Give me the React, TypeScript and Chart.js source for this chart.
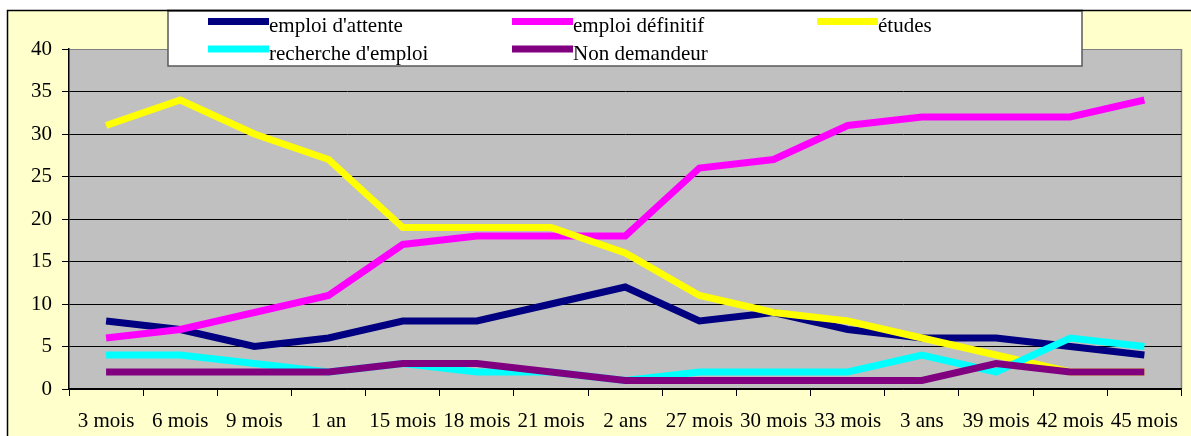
import React, { useEffect, useRef } from "react";
import { Chart, registerables } from "chart.js";

Chart.register(...registerables);

const categories = ["3 mois", "6 mois", "9 mois", "1 an", "15 mois", "18 mois", "21 mois", "2 ans", "27 mois", "30 mois", "33 mois", "3 ans", "39 mois", "42 mois", "45 mois"];
const emploiAttente = [8, 7, 5, 6, 8, 8, 10, 12, 8, 9, 7, 6, 6, 5, 4];
const emploiDefinitif = [6, 7, 9, 11, 17, 18, 18, 18, 26, 27, 31, 32, 32, 32, 34];
const etudes = [31, 34, 30, 27, 19, 19, 19, 16, 11, 9, 8, 6, 4, 2, 2];
const rechercheEmploi = [4, 4, 3, 2, 3, 2, 2, 1, 2, 2, 2, 4, 2, 6, 5];
const nonDemandeur = [2, 2, 2, 2, 3, 3, 2, 1, 1, 1, 1, 1, 3, 2, 2];
const seriesLabels = ["emploi d'attente", "emploi définitif", "études", "recherche d'emploi", "Non demandeur"];
const seriesColors = ["#000080", "#FF00FF", "#FFFF00", "#00FFFF", "#800080"];
const yTicks = [0, 5, 10, 15, 20, 25, 30, 35, 40];

const FONT = '"Liberation Serif", "Times New Roman", serif';

const backgroundPlugin = {
  id: "bgPlugin",
  beforeDraw(chart: any) {
    const { ctx, chartArea, width, height } = chart;
    ctx.save();
    ctx.fillStyle = "#ffffff";
    ctx.fillRect(0, 0, width, height);
    ctx.fillStyle = "#FFFFCC";
    ctx.fillRect(7.5, 10.5, width, height);
    ctx.strokeStyle = "#000";
    ctx.lineWidth = 1.5;
    ctx.beginPath();
    ctx.moveTo(7.5, height + 2);
    ctx.lineTo(7.5, 10.5);
    ctx.lineTo(width + 2, 10.5);
    ctx.stroke();
    ctx.fillStyle = "#C0C0C0";
    ctx.fillRect(chartArea.left, chartArea.top, chartArea.right - chartArea.left, chartArea.bottom - chartArea.top);
    ctx.strokeStyle = "#808080";
    ctx.lineWidth = 1.5;
    ctx.beginPath();
    ctx.moveTo(chartArea.right, chartArea.top);
    ctx.lineTo(chartArea.right, chartArea.bottom);
    ctx.stroke();
    ctx.restore();
  },
  afterDraw(chart: any) {
    const { ctx } = chart;
    ctx.save();
    const lx = 168, ly = 11, lw = 914, lh = 55;
    ctx.fillStyle = "#ffffff";
    ctx.fillRect(lx, ly, lw, lh);
    ctx.strokeStyle = "#5a5a5a";
    ctx.lineWidth = 1.5;
    ctx.strokeRect(lx, ly, lw, lh);
    ctx.strokeStyle = "#000";
    ctx.beginPath();
    ctx.moveTo(lx - 1, 10.5);
    ctx.lineTo(lx + lw + 1, 10.5);
    ctx.stroke();
    const cols = [208, 512, 817];
    const rows = [21.5, 49];
    ctx.font = "21px " + FONT;
    ctx.textAlign = "left";
    ctx.textBaseline = "alphabetic";
    chart.data.datasets.forEach((ds: any, i: number) => {
      const c = i % 3;
      const r = Math.floor(i / 3);
      const x = cols[c];
      const y = rows[r];
      ctx.strokeStyle = ds.borderColor;
      ctx.lineWidth = 7;
      ctx.lineCap = "butt";
      ctx.beginPath();
      ctx.moveTo(x, y);
      ctx.lineTo(x + 61, y);
      ctx.stroke();
      ctx.fillStyle = "#000";
      ctx.fillText(ds.label, x + 61, y + 10.5);
    });
    ctx.restore();
  },
};

export default function App() {
  const ref = useRef<HTMLCanvasElement | null>(null);
  useEffect(() => {
    if (!ref.current) return;
    const seriesData = [emploiAttente, emploiDefinitif, etudes, rechercheEmploi, nonDemandeur];
    const chart = new Chart(ref.current, {
      type: "line",
      data: {
        labels: categories,
        datasets: seriesData.map((d, i) => ({
          label: seriesLabels[i],
          data: d,
          borderColor: seriesColors[i],
          backgroundColor: seriesColors[i],
          borderWidth: 7,
          pointRadius: 0,
          tension: 0,
          fill: false,
          order: 5 - i,
        })),
      },
      options: {
        animation: false,
        responsive: false,
        maintainAspectRatio: false,
        layout: { padding: { left: 0, top: 49, right: 2, bottom: 0 } },
        plugins: {
          legend: { display: false },
          tooltip: { enabled: false },
        },
        scales: {
          x: {
            offset: true,
            grid: {
              offset: true,
              drawOnChartArea: false,
              drawTicks: true,
              tickLength: 7,
              color: "#000",
              tickColor: "#000",
            },
            border: { color: "#000", width: 1.5 },
            ticks: {
              color: "#000",
              font: { family: FONT, size: 21 },
              padding: 13,
              maxRotation: 0,
              autoSkip: false,
            },
            afterFit(scale: any) {
              scale.height = 47;
            },
          },
          y: {
            min: 0,
            max: 40,
            afterBuildTicks(scale: any) {
              scale.ticks = yTicks.map((v) => ({ value: v }));
            },
            grid: {
              color: (ctx: any) => (ctx.tick && ctx.tick.value === 40 ? "#808080" : "#000"),
              tickColor: "#000",
              tickLength: 7,
              lineWidth: 1,
            },
            border: { color: "#000", width: 1.5 },
            ticks: {
              color: "#000",
              font: { family: FONT, size: 21 },
              padding: 10,
            },
            afterFit(scale: any) {
              scale.width = 69;
            },
          },
        },
      },
      plugins: [backgroundPlugin],
    });
    return () => chart.destroy();
  }, []);
  return (
    <div style={{ position: "fixed", left: 0, top: 0, width: 1191, height: 436 }}>
      <canvas ref={ref} width={1191} height={436} style={{ width: 1191, height: 436, display: "block" }} />
    </div>
  );
}
